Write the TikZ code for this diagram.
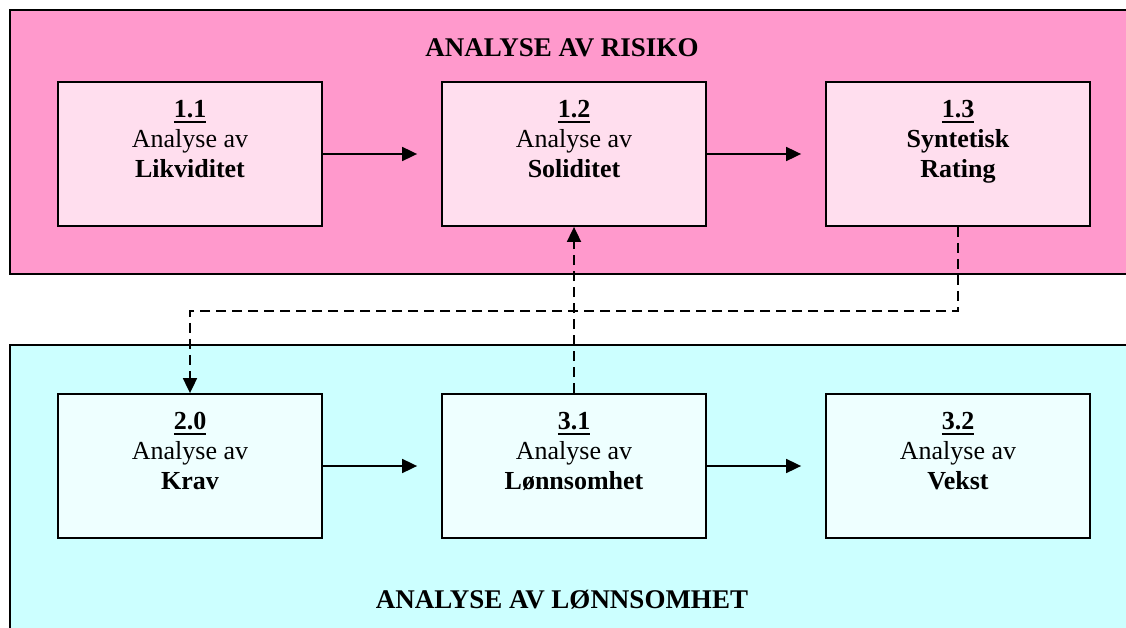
\documentclass[tikz,border=0pt]{standalone}
\usepackage{fontspec}
\setmainfont{Liberation Serif}
\usetikzlibrary{arrows.meta}

\definecolor{riskpanel}{RGB}{255,153,204}
\definecolor{riskbox}{RGB}{255,222,238}
\definecolor{profitpanel}{RGB}{204,255,255}
\definecolor{profitbox}{RGB}{238,255,255}

% bold step number with a heavy underline
\newcommand\stepnum[1]{\setbox0\hbox{\textbf{#1}}\rlap{\rule[-5.5pt]{\wd0}{2.5pt}}\box0}

\begin{document}
\begin{tikzpicture}[x=1pt,y=-1pt,
  panel/.style={draw=black,line width=1.5pt},
  stepbox/.style={draw=black,line width=1.8pt,minimum width=264pt,minimum height=144pt,
    align=center,inner sep=0pt,font=\fontsize{26}{30}\selectfont},
  flow/.style={line width=1.8pt,-{Triangle[length=15pt,width=14pt]}},
  link/.style={flow,dash pattern=on 10pt off 6pt},
  title/.style={font=\fontsize{27}{30}\selectfont\bfseries,anchor=base}]

\clip (0,0) rectangle (1126,628);

% the two analysis areas
\fill[white] (0,0) rectangle (1126,628);
\draw[panel,fill=riskpanel] (10,10) rectangle (1140,274);
\draw[panel,fill=profitpanel] (10,345) rectangle (1140,650);

\node[title] (risktitle) at (562,57) {ANALYSE AV RISIKO};
\node[title] (profittitle) at (562,608) {ANALYSE AV LØNNSOMHET};

% risk steps
\node[stepbox,fill=riskbox] (b11) at (190,154)
  {\stepnum{1.1}\\Analyse av\\\textbf{Likviditet}\\\mbox{}};
\node[stepbox,fill=riskbox] (b12) at (574,154)
  {\stepnum{1.2}\\Analyse av\\\textbf{Soliditet}\\\mbox{}};
\node[stepbox,fill=riskbox] (b13) at (958,154)
  {\stepnum{1.3}\\\textbf{Syntetisk}\\\textbf{Rating}\\\mbox{}};

% profitability steps
\node[stepbox,fill=profitbox] (b20) at (190,466)
  {\stepnum{2.0}\\Analyse av\\\textbf{Krav}\\\mbox{}};
\node[stepbox,fill=profitbox] (b31) at (574,466)
  {\stepnum{3.1}\\Analyse av\\\textbf{Lønnsomhet}\\\mbox{}};
\node[stepbox,fill=profitbox] (b32) at (958,466)
  {\stepnum{3.2}\\Analyse av\\\textbf{Vekst}\\\mbox{}};

% flow inside each area
\draw[flow,shorten >=24pt] (b11.east) -- (b12.west);
\draw[flow,shorten >=24pt] (b12.east) -- (b13.west);
\draw[flow,shorten >=24pt] (b20.east) -- (b31.west);
\draw[flow,shorten >=24pt] (b31.east) -- (b32.west);

% links between the areas
\draw[link] (b13.south) -- ++(0,84) -| (b20.north);
\draw[link] (b31.north) -- (b12.south);
\end{tikzpicture}
\end{document}
